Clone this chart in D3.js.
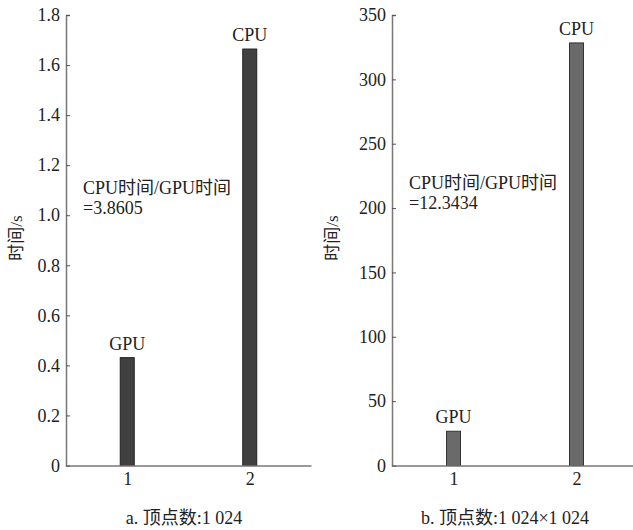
<!DOCTYPE html>
<html>
<head>
<meta charset="utf-8">
<script src="https://cdn.jsdelivr.net/npm/d3@7"></script>
<style>
  body { margin: 0; background: #fff; }
  svg text { font-family: "Liberation Serif", "Noto Sans CJK SC", serif; fill: #222; }
</style>
</head>
<body>
<svg width="633" height="530"></svg>
<script>
// panel a: 1 024 vertices
var catsA = [1, 2],
    labelsA = ["GPU", "CPU"],
    valuesA = [0.431, 1.664],
    ticksA = [0, 0.2, 0.4, 0.6, 0.8, 1.0, 1.2, 1.4, 1.6, 1.8];

// panel b: 1 024x1 024 vertices
var catsB = [1, 2],
    labelsB = ["GPU", "CPU"],
    valuesB = [26.6, 328.3],
    ticksB = [0, 50, 100, 150, 200, 250, 300, 350];

var svg = d3.select("svg");
var serif = "'Liberation Serif', 'Noto Sans CJK SC', serif";

function panel(opt) {
  var g = svg.append("g");

  var x = d3.scaleLinear().domain([0.5, 2.5]).range([opt.left, opt.right]);
  var y = d3.scaleLinear().domain([0, opt.max]).range([465.5, 15]);

  // bars
  g.selectAll("rect.bar")
    .data(opt.values)
    .enter().append("rect")
    .attr("x", function(d, i) { return x(opt.cats[i]) - 7; })
    .attr("width", 14)
    .attr("y", function(d) { return y(d); })
    .attr("height", function(d) { return y(0) - y(d); })
    .attr("fill", opt.fill)
    .attr("stroke", opt.stroke)
    .attr("stroke-width", 1);

  // bar labels
  g.selectAll("text.lab")
    .data(opt.values)
    .enter().append("text")
    .attr("x", function(d, i) { return x(opt.cats[i]); })
    .attr("y", function(d) { return y(d) - 8; })
    .attr("text-anchor", "middle")
    .style("font-size", "18px")
    .text(function(d, i) { return opt.labels[i]; });

  // y axis
  var yAxis = d3.axisRight(y).tickValues(opt.ticks).tickSize(4)
    .tickFormat(opt.fmt);
  var ya = g.append("g").attr("transform", "translate(" + opt.left + ",0)").call(yAxis);
  ya.attr("font-family", serif);
  ya.select(".domain").attr("stroke", "#777").attr("stroke-width", 1.5);
  ya.selectAll(".tick line").attr("stroke", "#555");
  ya.selectAll(".tick text")
    .attr("x", -6)
    .attr("text-anchor", "end")
    .style("font-family", serif)
    .style("font-size", "18px")
    .attr("fill", "#222");

  // x axis
  var xAxis = d3.axisBottom(x).tickValues(opt.cats).tickSize(0).tickFormat(d3.format("d"));
  var xa = g.append("g").attr("transform", "translate(0," + y(0) + ")").call(xAxis);
  xa.attr("font-family", serif);
  xa.select(".domain").attr("stroke", "#777").attr("stroke-width", 1.5);
  xa.selectAll(".tick text").attr("dy", "0.9em")
    .style("font-family", serif)
    .style("font-size", "18px").attr("fill", "#222");

  // y label
  g.append("text")
    .attr("transform", "translate(" + opt.ylabX + ",238) rotate(-90)")
    .attr("text-anchor", "middle")
    .style("font-size", "17px")
    .text("时间/s");

  // ratio note
  g.append("text").attr("x", opt.noteX).attr("y", opt.noteY)
    .style("font-size", "18px").text("CPU时间/GPU时间");
  g.append("text").attr("x", opt.noteX).attr("y", opt.noteY + 20)
    .style("font-size", "18px").text(opt.ratio);

  // caption
  g.append("text").attr("x", opt.capX).attr("y", 524)
    .attr("text-anchor", "middle")
    .style("font-size", "18px")
    .text(opt.caption);
}

panel({
  cats: catsA, labels: labelsA, values: valuesA, ticks: ticksA, max: 1.8,
  fmt: function(d) { return d === 0 ? "0" : d3.format(".1f")(d); },
  left: 66, right: 311, fill: "#404040", stroke: "#222",
  ylabX: 22, noteX: 83, noteY: 194, ratio: "=3.8605",
  capX: 184, caption: "a. 顶点数:1 024"
});

panel({
  cats: catsB, labels: labelsB, values: valuesB, ticks: ticksB, max: 350,
  fmt: d3.format("d"),
  left: 392, right: 638, fill: "#6a6a6a", stroke: "#333",
  ylabX: 338, noteX: 409, noteY: 189, ratio: "=12.3434",
  capX: 505, caption: "b. 顶点数:1 024×1 024"
});
</script>
</body>
</html>
